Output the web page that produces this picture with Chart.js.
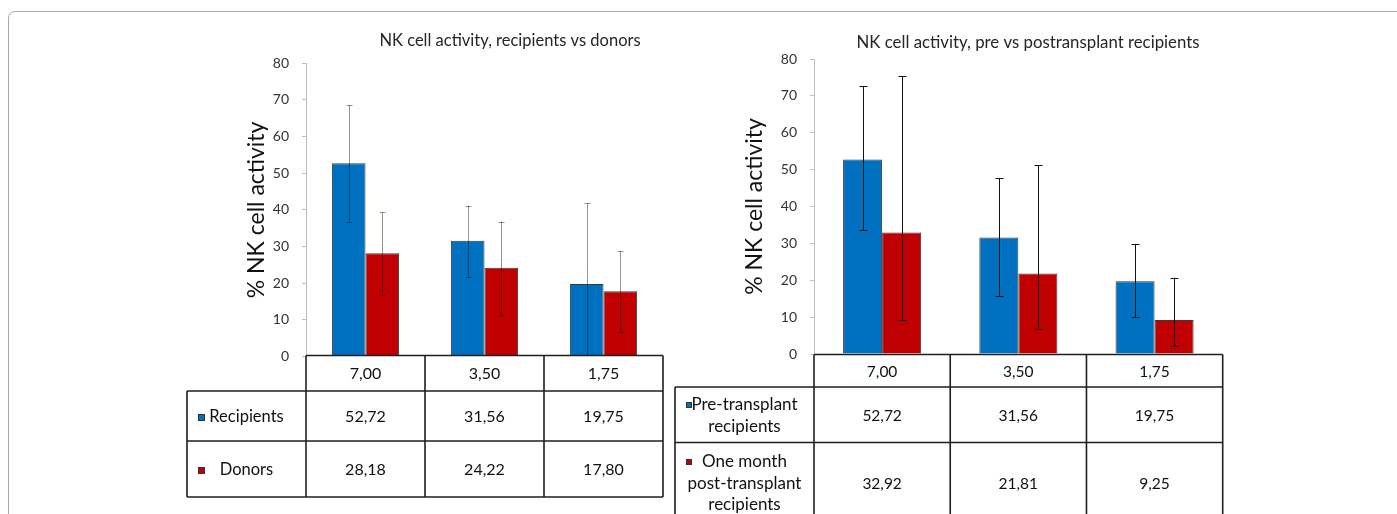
<!DOCTYPE html>
<html><head><meta charset="utf-8">
<script src="https://cdn.jsdelivr.net/npm/chart.js@4.4.1/dist/chart.umd.min.js"></script>
<style>
html,body{margin:0;padding:0;background:#fff;width:1397px;height:514px;overflow:hidden;font-family:Lato,sans-serif;}
#frame{position:absolute;left:8px;top:11px;width:1400px;height:530px;border:1px solid #a8a8a8;border-top-left-radius:7px;box-sizing:border-box;}
.wrap{position:absolute;top:0;height:514px;}
#wl{left:180px;width:490px;}
#wr{left:670px;width:560px;}
canvas{display:block}
</style></head><body>
<div id="frame"></div>
<div class="wrap" id="wl"><canvas id="cl" width="490" height="514"></canvas></div>
<div class="wrap" id="wr"><canvas id="cr" width="560" height="514"></canvas></div>
<script>
// ---------- data ----------
const categories = ['7,00', '3,50', '1,75'];
const yMin = 0, yMax = 80, yStep = 10;

// left panel: recipients vs donors
const leftTitle = 'NK cell activity, recipients vs donors';
const recipients = [52.72, 31.56, 19.75];
const recipientsErrHigh = [68.5, 41.1, 41.8];
const recipientsErrLow = [36.8, 21.6, -2.3];
const donors = [28.18, 24.22, 17.80];
const donorsErrHigh = [39.3, 36.8, 28.8];
const donorsErrLow = [16.8, 11.3, 6.6];
const leftLabels = [['Recipients'], ['Donors']];

// right panel: pre vs post transplant recipients
const rightTitle = 'NK cell activity, pre vs postransplant recipients';
const preTransplant = [52.72, 31.56, 19.75];
const preErrHigh = [72.6, 47.6, 29.7];
const preErrLow = [33.5, 15.6, 10.0];
const postTransplant = [32.92, 21.81, 9.25];
const postErrHigh = [75.3, 51.2, 20.7];
const postErrLow = [9.3, 6.9, 2.2];
const rightLabels = [['Pre-transplant', 'recipients'], ['One month', 'post-transplant', 'recipients']];

const yTitle = '% NK cell activity';
const BLUE = '#0070C0', RED = '#C00000';

function fmt(v) { return v.toFixed(2).replace('.', ','); }

const nkPlugin = {
  id: 'nk',
  afterDatasetsDraw(chart, args, o) {
    const {ctx, chartArea, scales: {y}} = chart;
    chart.data.datasets.forEach((ds, di) => {
      const meta = chart.getDatasetMeta(di);
      meta.data.forEach((bar, i) => {
        const yHi = y.getPixelForValue(ds.errHigh[i]);
        const yLoRaw = y.getPixelForValue(ds.errLow[i]);
        const yLo = Math.min(yLoRaw, chartArea.bottom);
        const x = Math.round(bar.x) + 0.5;
        ctx.save();
        ctx.strokeStyle = o.errColor; ctx.lineWidth = 1;
        ctx.beginPath();
        ctx.moveTo(x, yHi); ctx.lineTo(x, yLo);
        ctx.moveTo(x - o.cap, Math.round(yHi) + 0.5); ctx.lineTo(x + o.cap, Math.round(yHi) + 0.5);
        if (yLoRaw <= chartArea.bottom) {
          ctx.moveTo(x - o.cap, Math.round(yLo) + 0.5); ctx.lineTo(x + o.cap, Math.round(yLo) + 0.5);
        }
        ctx.stroke();
        ctx.restore();
      });
    });
  },
  afterDraw(chart, args, o) {
    const {ctx, chartArea: {left, right}} = chart;
    const n = chart.data.labels.length;
    const cw = (right - left) / n;
    ctx.save();
    // title
    ctx.fillStyle = '#262626';
    ctx.font = o.titleSize + 'px Lato';
    ctx.textAlign = 'center'; ctx.textBaseline = 'middle';
    ctx.fillText(o.title, o.titleX, o.titleY);

    const top = o.tableTop;
    const hBot = top + o.headerH;
    let bottoms = []; let acc = hBot;
    o.rowHs.forEach(h => { acc += h; bottoms.push(acc); });
    const tBot = bottoms[bottoms.length - 1];
    // white header cells
    ctx.fillStyle = '#fff';
    ctx.fillRect(left, top, right - left, o.headerH);
    // lines
    ctx.strokeStyle = '#1f1f1f'; ctx.lineWidth = 1.6;
    ctx.beginPath();
    ctx.moveTo(left, top); ctx.lineTo(right, top);
    ctx.moveTo(o.labelLeft, hBot); ctx.lineTo(right, hBot);
    bottoms.forEach(b => { ctx.moveTo(o.labelLeft, b); ctx.lineTo(right, b); });
    for (let i = 0; i <= n; i++) { ctx.moveTo(left + i * cw, top); ctx.lineTo(left + i * cw, tBot); }
    ctx.moveTo(o.labelLeft, hBot); ctx.lineTo(o.labelLeft, tBot);
    ctx.stroke();
    // texts
    ctx.fillStyle = '#111';
    ctx.font = o.valueSize + 'px Lato';
    chart.data.labels.forEach((c, i) => ctx.fillText(c, left + (i + 0.5) * cw, (top + hBot) / 2 + 1));
    const lc = (o.labelLeft + left) / 2 + o.labelShift;
    chart.data.datasets.forEach((ds, di) => {
      const rTop = di === 0 ? hBot : bottoms[di - 1];
      const rc = (rTop + bottoms[di]) / 2 + 1;
      ctx.font = o.valueSize + 'px Lato';
      ds.data.forEach((v, i) => ctx.fillText(fmt(v), left + (i + 0.5) * cw, rc));
      ctx.font = o.labelSize + 'px Lato';
      const lines = ds.lines;
      const y0 = rc - (lines.length - 1) * o.lineGap / 2;
      lines.forEach((t, k) => ctx.fillText(t, lc, y0 + k * o.lineGap));
      // legend key
      const s = o.sq;
      ctx.fillStyle = ds.backgroundColor;
      ctx.fillRect(o.sqX, Math.round(y0 - s / 2) , s, s);
      ctx.strokeStyle = '#333'; ctx.lineWidth = 1;
      ctx.strokeRect(o.sqX + 0.5, Math.round(y0 - s / 2) + 0.5, s - 1, s - 1);
      ctx.fillStyle = '#111';
    });
    ctx.restore();
  }
};

function build(id, p) {
  return new Chart(document.getElementById(id), {
    type: 'bar',
    data: {
      labels: categories,
      datasets: p.series.map(s => ({
        label: s.lines.join(' '), lines: s.lines, data: s.data, errHigh: s.hi, errLow: s.lo,
        backgroundColor: s.color, borderColor: '#3a3a3a', borderWidth: 1,
        categoryPercentage: p.catPct, barPercentage: 1
      }))
    },
    options: {
      responsive: false, animation: false, devicePixelRatio: 1,
      layout: { padding: p.padding },
      plugins: { legend: { display: false }, tooltip: { enabled: false }, title: { display: false }, nk: p.plug },
      scales: {
        x: { display: false },
        y: {
          min: yMin, max: yMax,
          afterFit: s => { s.width = p.scaleW; },
          ticks: { stepSize: yStep, padding: 13, color: '#333', font: { family: 'Lato', size: 14 } },
          grid: { display: true, drawOnChartArea: false, drawTicks: true, tickLength: 4, color: '#bfbfbf' },
          border: { display: true, color: '#bfbfbf', width: 1 },
          title: { display: true, text: yTitle, color: '#111', font: { family: 'Lato', size: 23 }, padding: { top: p.yTitlePad, bottom: 0 } }
        }
      }
    },
    plugins: [nkPlugin]
  });
}

build('cl', {
  series: [
    { lines: leftLabels[0], data: recipients, hi: recipientsErrHigh, lo: recipientsErrLow, color: BLUE },
    { lines: leftLabels[1], data: donors, hi: donorsErrHigh, lo: donorsErrLow, color: RED }
  ],
  catPct: 0.565,
  padding: { top: 63.3, bottom: 157.5, left: 0, right: 7 },
  scaleW: 126, yTitlePad: 63.2,
  plug: { errColor: 'rgba(0,0,0,0.42)', cap: 3, title: leftTitle, titleSize: 16.5, titleX: 330, titleY: 41,
          tableTop: 355.5, headerH: 35.5, rowHs: [50, 56], labelLeft: 7, labelShift: 0,
          valueSize: 16, labelSize: 16.5, lineGap: 21, sq: 7, sqX: 18 }
});

build('cr', {
  series: [
    { lines: rightLabels[0], data: preTransplant, hi: preErrHigh, lo: preErrLow, color: BLUE },
    { lines: rightLabels[1], data: postTransplant, hi: postErrHigh, lo: postErrLow, color: RED }
  ],
  catPct: 0.573,
  padding: { top: 59, bottom: 160, left: 0, right: 7.3 },
  scaleW: 144, yTitlePad: 71.2,
  plug: { errColor: '#111', cap: 4, title: rightTitle, titleSize: 16.8, titleX: 358, titleY: 43,
          tableTop: 354.5, headerH: 32.5, rowHs: [55.5, 80], labelLeft: 5, labelShift: 0,
          valueSize: 15.5, labelSize: 17, lineGap: 21.5, sq: 6, sqX: 16 }
});
</script>
</body></html>
